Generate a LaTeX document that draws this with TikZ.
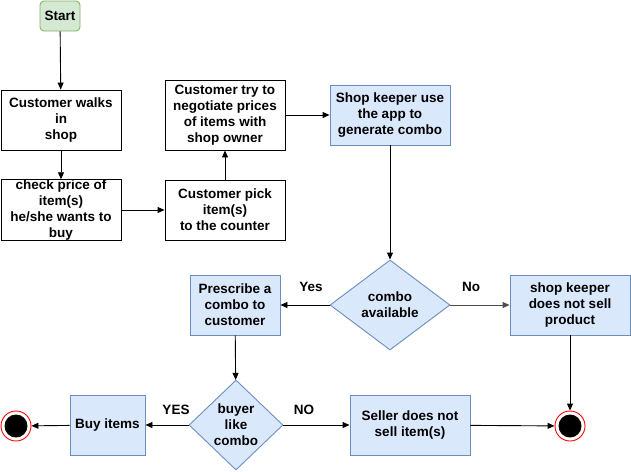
\documentclass[tikz,border=0pt]{standalone}
\usepackage{fontspec}
\setmainfont{Liberation Sans}
\usetikzlibrary{shapes.geometric,arrows.meta}
\definecolor{bfill}{HTML}{DAE8FC}
\definecolor{bline}{HTML}{6C8EBF}
\definecolor{gfill}{HTML}{D5E8D4}
\definecolor{gline}{HTML}{82B366}
\begin{document}
\begin{tikzpicture}[x=1pt,y=-1pt,
  every node/.style={font=\bfseries\fontsize{13.5}{16}\selectfont, align=center, inner sep=0pt},
  plainbox/.style={draw=black, fill=white, minimum width=120, minimum height=60, line width=0.9pt},
  bluebox/.style={draw=bline, fill=bfill, minimum height=60, line width=0.9pt},
  decision/.style={diamond, draw=bline, fill=bfill, line width=0.9pt},
  startbox/.style={draw=gline, fill=gfill, rounded corners=4pt, minimum width=40, minimum height=30, line width=0.9pt},
  endnode/.style={circle, draw=red, fill=white, minimum size=30, line width=0.9pt,
    path picture={\fill[black] (path picture bounding box.center) circle (11.5);}},
  conn/.style={-{Triangle[length=7pt,width=6pt]}, line width=0.9pt},
  lbl/.style={font=\bfseries\fontsize{13.5}{16}\selectfont}
]
\useasboundingbox (0,0) rectangle (631,471);
\node[startbox] (start) at (60,16) {Start};
\node[plainbox] (walk) at (61,120) {Customer walks\\in\\shop};
\node[plainbox] (check) at (61,210) {check price of\\item(s)\\he/she wants to\\buy};
\node[plainbox] (pick) at (225,210) {Customer pick\\item(s)\\to the counter};
\node[plainbox, minimum height=70] (try) at (225,115) {Customer try to\\negotiate prices\\of items with\\shop owner};
\node[bluebox, minimum width=120] (app) at (390,115) {Shop keeper use\\the app to\\generate combo};
\node[decision, minimum width=120, minimum height=90] (avail) at (390,305) {combo\\available};
\node[bluebox, minimum width=90] (presc) at (235,305) {Prescribe a\\combo to\\customer};
\node[bluebox, minimum width=120] (nosell) at (570,305) {shop keeper\\does not sell\\product};
\node[decision, minimum width=94, minimum height=90] (like) at (236,425) {buyer\\like\\combo};
\node[bluebox, minimum width=75] (buy) at (107.5,425) {Buy items};
\node[bluebox, minimum width=120] (seller) at (410,425) {Seller does not\\sell item(s)};
\node[endnode] (endl) at (16,426) {};
\node[endnode] (endr) at (570,426) {};

\draw[conn] (start) -- (walk);
\draw[conn] (walk) -- (check);
\draw[conn] (check) -- (pick);
\draw[conn] (pick) -- (try);
\draw[conn] (try) -- (app);
\draw[conn] (app) -- (avail);
\draw[conn] (avail) -- (presc);
\draw[conn, draw=black!70, fill=black!70] (avail) -- (nosell);
\draw[conn] (nosell) -- (endr);
\draw[conn] (presc) -- (like);
\draw[conn] (like) -- (buy);
\draw[conn] (buy) -- (endl);
\draw[conn] (like) -- (seller);
\draw[conn] (seller) -- (endr);

\node[lbl] (lyes) at (311,287) {Yes};
\node[lbl] (lno) at (471,287) {No};
\node[lbl] (lYES) at (176,410) {YES};
\node[lbl] (lNO) at (304,410) {NO};
\end{tikzpicture}
\end{document}
